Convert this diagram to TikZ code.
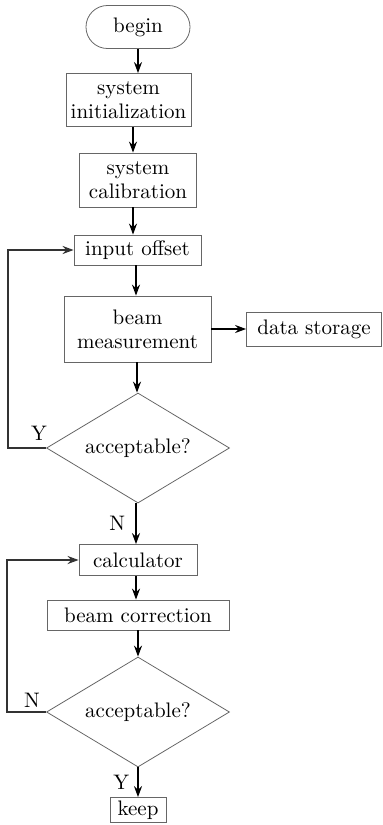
\documentclass[tikz,border=0pt]{standalone}
\usepackage{tikz}
\usetikzlibrary{shapes.geometric,arrows.meta}

\tikzset{
  box/.style={draw=gray!80!black, line width=0.4pt, inner sep=0pt, align=center,
              font=\fontsize{10.5}{12}\selectfont},
  term/.style={box, rounded corners=10.7pt},
  decision/.style={box, diamond, aspect=1.66, minimum width=91.5pt, minimum height=55pt},
  arr/.style={-{Stealth[length=5.5pt,width=4pt]}, line width=0.8pt},
  back/.style={arr, draw=black!80, line width=1pt},
  tag/.style={font=\fontsize{10.5}{12}\selectfont, inner sep=0pt}
}

\begin{document}
\begin{tikzpicture}[x=0.5pt, y=-0.5pt]

          \useasboundingbox (0,0) rectangle (382,825);

          % main column
          \node[term, minimum width=52pt, minimum height=21.5pt] (begin) at (138,27) {begin};
          \node[box, minimum width=62.5pt, minimum height=26.5pt] (init) at (128.5,100) {system\\initialization};
          \node[box, minimum width=58.5pt, minimum height=27pt] (calib) at (138,180) {system\\calibration};
          \node[box, minimum width=63.5pt, minimum height=15pt] (offset) at (137.5,250) {input offset};
          \node[box, minimum width=73.5pt, minimum height=33pt] (meas) at (137.5,329) {beam\\measurement};
          \node[box, minimum width=67.5pt, minimum height=17pt] (store) at (314,329) {data storage};
          \node[decision] (okA) at (138,448) {acceptable?};
          \node[box, minimum width=59pt, minimum height=15.5pt] (calc) at (138,560) {calculator};
          \node[box, minimum width=91pt, minimum height=15pt] (corr) at (138,615) {beam correction};
          \node[decision] (okB) at (138,712) {acceptable?};
          \node[box, minimum width=28pt, minimum height=12.5pt] (keep) at (138,810) {keep};

          \coordinate (loopA) at (8,250);
          \coordinate (loopB) at (7,560);

          \draw[arr] (begin) -- (begin |- init.north);
          \draw[arr] (init.south -| 133,0) -- (calib.north -| 133,0);
          \draw[arr] (calib.south -| 133,0) -- (offset.north -| 133,0);
          \draw[arr] (offset.south -| 136,0) -- (meas.north -| 136,0);
          \draw[arr] (meas.south -| 137,0) -- (okA.north -| 137,0);
          \draw[arr] (meas) -- (store);
          \draw[arr] (okA.south -| 136,0) -- (calc.north -| 136,0) node[tag, midway, left=5pt] {N};
          \draw[arr] (calc.south -| 136,0) -- (corr.north -| 136,0);
          \draw[arr] (corr) -- (okB);
          \draw[arr] (okB) -- (keep) node[tag, midway, left=4pt] {Y};

          % loops back
          \draw[back] (okA.west) -- (okA.west -| loopA) -- (loopA) -- (offset);
          \draw[back] (okB.west) -- (okB.west -| loopB) -- (loopB) -- (calc);
          \node[tag] (yA) at (39,433) {Y};
          \node[tag] (nB) at (32,700) {N};

\end{tikzpicture}
\end{document}
